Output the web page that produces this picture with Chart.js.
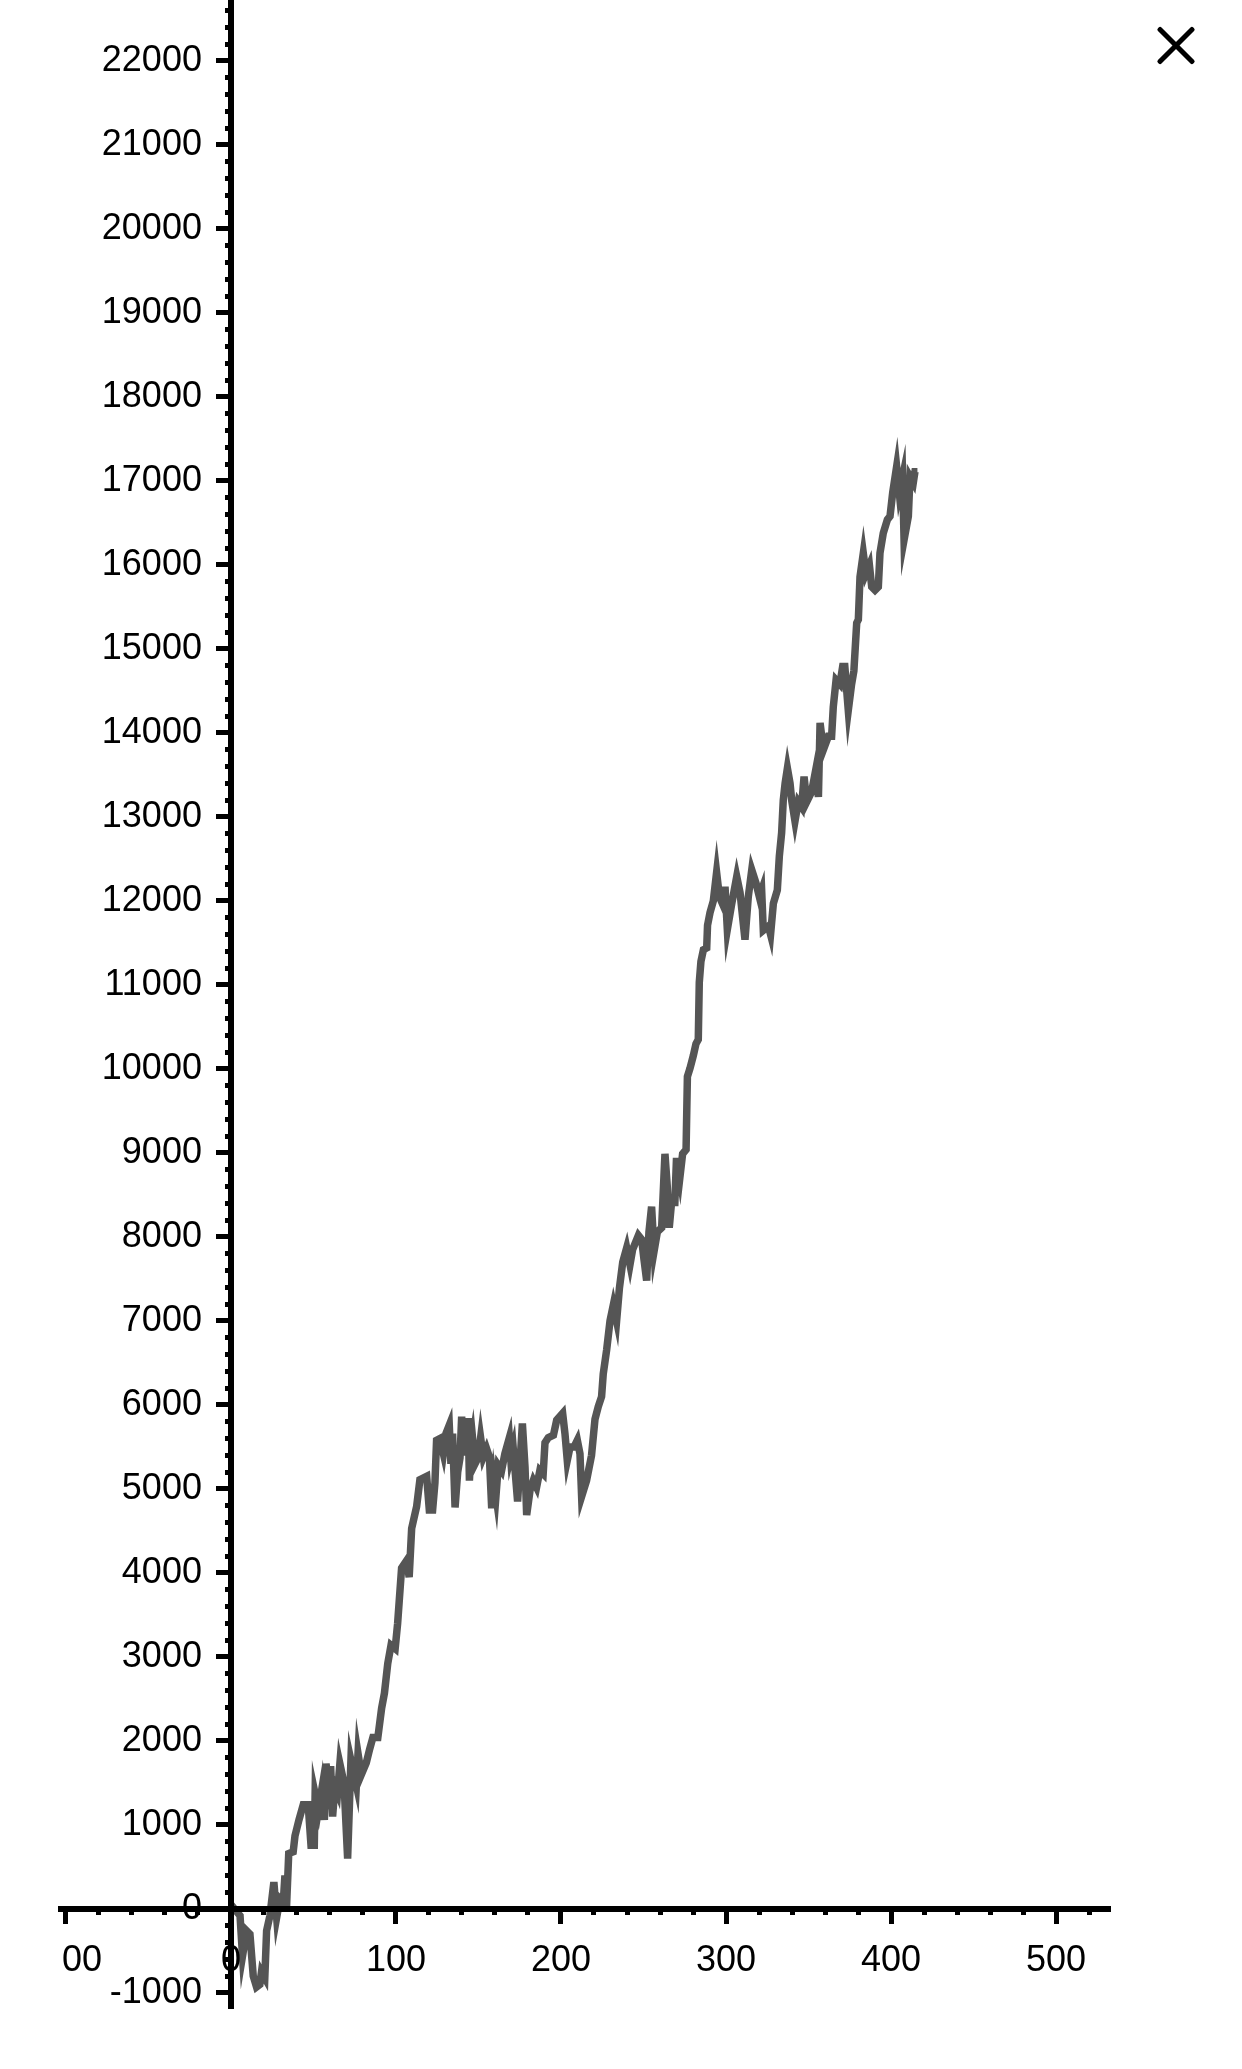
<!DOCTYPE html>
<html>
<head>
<meta charset="utf-8">
<script src="https://cdn.jsdelivr.net/npm/chart.js@4.4.1/dist/chart.umd.min.js"></script>
<style>
  html, body { margin: 0; padding: 0; background: #fff; }
  #wrap { position: relative; width: 1242px; height: 2069px; }
  .close { position: absolute; left: 1151px; top: 21px; width: 50px; height: 50px; }
  .close span { position: absolute; left: 0; top: 22px; width: 50px; height: 5px; background: #000; border-radius: 2px; }
  .close span:first-child { transform: rotate(45deg); }
  .close span:last-child { transform: rotate(-45deg); }
</style>
</head>
<body>
<div id="wrap">
  <canvas id="equityChart" width="1242" height="2069"></canvas>
  <div class="close"><span></span><span></span></div>
</div>
<script>
// Trade number (x) and running total (y).
const steps = [
    0, 5.5, 7, 9.5, 11.5, 13.5, 15.5, 17.5, 18.5, 20.5,
    21.6, 23.6, 26, 27.7, 29.7, 31.7, 32.7, 33.7, 35, 37.7,
    38.8, 41.2, 43.8, 46.8, 48.5, 50.5, 51, 53, 55, 56.6,
    57.6, 59, 60.4, 61.6, 63, 64.6, 66, 68.5, 70.7, 72.7,
    76, 77, 79, 82, 84, 86, 89, 91.3, 93, 95,
    97, 99.5, 101, 103.4, 106.5, 108, 109.5, 112.5, 114.5, 118.6,
    120.2, 122.2, 123.6, 124.6, 126.6, 128.7, 130.3, 132.3, 133.3, 134.3,
    135.8, 137.4, 138.8, 139.8, 141, 142.4, 143.8, 144.5, 145.5, 146.4,
    147.9, 149.9, 151.3, 152.9, 154.9, 156.6, 158, 159.4, 160.6, 162,
    164, 166, 168.7, 169.5, 171, 173.7, 175, 176.6, 178.2, 179.2,
    181.2, 183.2, 185.2, 187.2, 189.2, 190.3, 192.3, 195.4, 197.4, 201,
    202.4, 203.8, 205.5, 207.9, 209.9, 211.5, 212.5, 215.5, 218.5, 220.6,
    222.6, 224.6, 225.6, 227.7, 229.7, 231.7, 233.7, 235.4, 237.4, 239.8,
    241.8, 243.4, 246.9, 248.9, 250.3, 251.9, 253.3, 254.9, 256.4, 258.4,
    261, 263, 264.4, 265.6, 267, 269, 270, 272, 273.7, 275.8,
    276.6, 278.2, 280.2, 281.8, 283.2, 283.8, 284.8, 286.3, 288.3, 288.8,
    290.3, 292.3, 294.3, 296, 298, 299.4, 300.8, 303.4, 306.5, 308.5,
    311.5, 313.5, 315.6, 318.2, 320.2, 321.6, 322.6, 325.7, 327, 328.7,
    331.1, 332.3, 333.7, 334.7, 335.8, 337.2, 338.8, 339.8, 341.8, 343.8,
    345.8, 347.3, 348.9, 351.9, 354, 356, 357, 359, 362, 364,
    365, 366.7, 369, 370.7, 372, 374.1, 376.1, 377.5, 379.2, 380.2,
    381.2, 383.2, 384.8, 386.9, 388.3, 390.3, 392.3, 393.3, 395.3, 397.8,
    399.4, 401, 403.4, 405, 407, 407.9, 410.5, 411.5, 413.5, 414.5,
    416
];
const equity = [
    50, -80, -560, -260, -300, -800, -930, -900, -750, -820,
    -260, -80, 320, -100, 120, 80, 400, 30, 660, 680,
    870, 1060, 1240, 1240, 760, 760, 1370, 1180, 1420, 1060,
    1730, 1500, 1700, 1100, 1460, 1380, 1730, 1500, 600, 1770,
    1470, 1850, 1600, 1740, 1900, 2040, 2040, 2390, 2570, 2920,
    3140, 3100, 3400, 4060, 4150, 3950, 4530, 4790, 5110, 5150,
    4750, 4750, 5070, 5580, 5600, 5420, 5660, 5760, 5300, 5660,
    4780, 5200, 5370, 5860, 5400, 5800, 5800, 5100, 5500, 5610,
    5300, 5380, 5610, 5380, 5480, 5380, 4770, 5090, 4920, 5280,
    5220, 5420, 5610, 5380, 5500, 4850, 5260, 5780, 5260, 4690,
    4980, 5100, 5020, 5220, 5180, 5550, 5610, 5640, 5820, 5900,
    5660, 5340, 5500, 5500, 5580, 5420, 4910, 5100, 5400, 5830,
    5980, 6100, 6370, 6660, 7000, 7190, 7000, 7390, 7700, 7870,
    7670, 7850, 8020, 7970, 7730, 7480, 8060, 8360, 7830, 8060,
    8110, 8990, 8600, 8110, 8410, 8410, 8940, 8700, 8990, 9040,
    9910, 10010, 10160, 10300, 10350, 11030, 11280, 11420, 11440, 11710,
    11860, 12000, 12340, 12050, 11960, 12170, 11660, 11960, 12290, 12100,
    11540, 12050, 12370, 12210, 12050, 12130, 11650, 11700, 11600, 11970,
    12130, 12530, 12810, 13200, 13400, 13580, 13400, 13200, 12950, 13180,
    13120, 13480, 13180, 13300, 13520, 13240, 14120, 13800, 13960, 13960,
    14310, 14630, 14580, 14790, 14790, 14270, 14580, 14740, 15310, 15350,
    15860, 16140, 15900, 16000, 15740, 15700, 15740, 16140, 16380, 16540,
    16580, 16860, 17170, 16860, 17050, 16300, 16580, 17050, 16980, 17110,
    17110
];
const xTickLabels = [-100, 0, 100, 200, 300, 400, 500];
const yTickLabels = [-1000, 0, 1000, 2000, 3000, 4000, 5000, 6000, 7000, 8000, 9000, 10000,
    11000, 12000, 13000, 14000, 15000, 16000, 17000, 18000, 19000, 20000, 21000, 22000];

// visible range of both axes
const xMin = -103, xMax = 532.7;
const yMin = -1179, yMax = 22726;
// y labels end a little left of the tick marks
const yLabelAt = -17.6;

const tickFont = { family: "'Liberation Sans', Arial, sans-serif", size: 36 };

// axes sit on the zero lines and take no layout room
function noRoom(s) {
    if (s.isHorizontal()) s.height = 0; else s.width = 0;
    s.paddingTop = s.paddingBottom = s.paddingLeft = s.paddingRight = 0;
}

// labels outside the plot box are cut off, like the "-100" on the left
const clipXLabels = {
    id: 'clipXLabels',
    afterLayout(chart) {
        const sc = chart.scales.x;
        if (sc._clipped) return;
        const orig = sc.drawLabels.bind(sc);
        sc.drawLabels = function (area) {
            const c = chart.ctx;
            c.save();
            c.beginPath();
            c.rect(chart.chartArea.left, 0, chart.width, chart.height);
            c.clip();
            orig(area);
            c.restore();
        };
        sc._clipped = true;
    }
};

const ctx = document.getElementById('equityChart').getContext('2d');
new Chart(ctx, {
    type: 'line',
    data: {
        datasets: [{
            data: steps.map((s, i) => ({ x: s, y: equity[i] })),
            borderColor: '#555555',
            borderWidth: 7.5,
            borderJoinStyle: 'miter',
            pointRadius: 0,
            tension: 0,
            fill: false
        }]
    },
    options: {
        responsive: false,
        animation: false,
        events: [],
        layout: { autoPadding: false, padding: { left: 61, right: 132, top: 0, bottom: 61 } },
        plugins: { legend: { display: false }, tooltip: { enabled: false } },
        scales: {
            x: {
                type: 'linear', min: xMin, max: xMax, position: { y: 0 },
                afterFit: noRoom,
                afterBuildTicks: s => { s.ticks = xTickLabels.map(v => ({ value: v })); },
                grid: { drawOnChartArea: false, tickLength: 12, tickWidth: 5, tickColor: '#000', z: 1 },
                border: { color: '#000', width: 6, z: 1 },
                ticks: { color: '#000', font: tickFont, padding: 19, maxRotation: 0, autoSkip: false, z: 1,
                    callback: v => String(v) }
            },
            xMinor: {
                axis: 'x', type: 'linear', min: xMin, max: xMax, position: { y: 0 },
                afterFit: noRoom,
                grid: { drawOnChartArea: false, tickLength: 6, tickWidth: 5, tickColor: '#000', z: 1 },
                border: { display: false },
                ticks: { display: false, stepSize: 20, includeBounds: false, autoSkip: false }
            },
            y: {
                type: 'linear', min: yMin, max: yMax, position: { x: 0 },
                afterFit: noRoom,
                afterBuildTicks: s => { s.ticks = yTickLabels.map(v => ({ value: v })); },
                grid: { drawOnChartArea: false, tickLength: 12, tickWidth: 5, tickColor: '#000', z: 1 },
                border: { color: '#000', width: 6, z: 1 },
                ticks: { display: false, autoSkip: false }
            },
            yMinor: {
                axis: 'y', type: 'linear', min: yMin, max: yMax, position: { x: 0 },
                afterFit: noRoom,
                grid: { drawOnChartArea: false, tickLength: 6, tickWidth: 5, tickColor: '#000', z: 1 },
                border: { display: false },
                ticks: { display: false, stepSize: 200, includeBounds: false, autoSkip: false }
            },
            yLabels: {
                axis: 'y', type: 'linear', min: yMin, max: yMax, position: { x: yLabelAt },
                afterFit: noRoom,
                afterBuildTicks: s => { s.ticks = yTickLabels.map(v => ({ value: v })); },
                grid: { display: false },
                border: { display: false },
                ticks: { color: '#000', font: tickFont, autoSkip: false, z: 0,
                    callback: v => String(v) }
            }
        }
    },
    plugins: [clipXLabels]
});
</script>
</body>
</html>
